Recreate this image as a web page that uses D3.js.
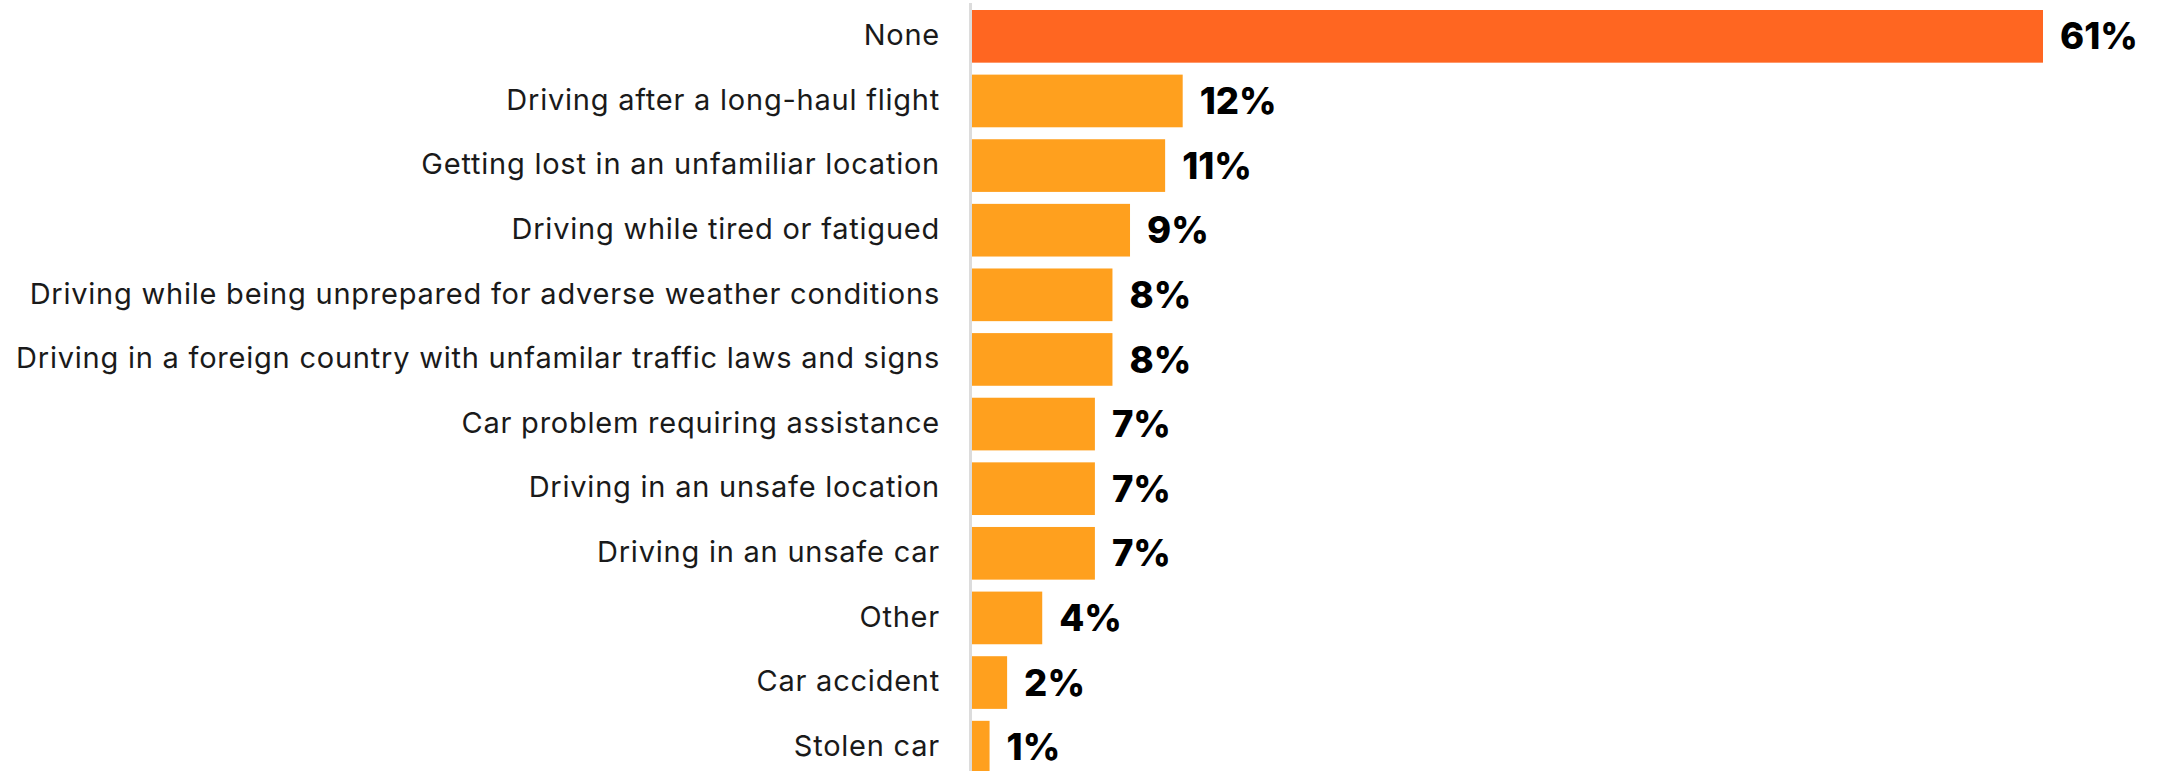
<!DOCTYPE html>
<html>
<head>
<meta charset="utf-8">
<script src="https://cdn.jsdelivr.net/npm/d3@7"></script>
<style>
  html, body { margin: 0; padding: 0; background: #fff; }
  svg { display: block; }
</style>
</head>
<body>
<svg id="chart" width="2159" height="771"></svg>
<script>
// Driving concerns while travelling, share of respondents (%)
const categories = [
  "None",
  "Driving after a long-haul flight",
  "Getting lost in an unfamiliar location",
  "Driving while tired or fatigued",
  "Driving while being unprepared for adverse weather conditions",
  "Driving in a foreign country with unfamilar traffic laws and signs",
  "Car problem requiring assistance",
  "Driving in an unsafe location",
  "Driving in an unsafe car",
  "Other",
  "Car accident",
  "Stolen car"
];
const values = [61, 12, 11, 9, 8, 8, 7, 7, 7, 4, 2, 1];
const highlighted = ["None"];

const width = 2159, height = 771;
const left = 972;
const labelGap = 32;
const labelSpan = 924;   // width available to the longest category label

const svg = d3.select("#chart");

const x = d3.scaleLinear()
  .domain([0, d3.max(values)])
  .range([left, 2043]);

const y = d3.scaleBand()
  .domain(categories)
  .range([10, 773.5])
  .paddingInner(0.185)
  .paddingOuter(0);

const data = categories.map((c, i) => ({ cat: c, val: values[i] }));

// baseline
svg.append("line")
  .attr("x1", left - 1.5).attr("x2", left - 1.5)
  .attr("y1", 3).attr("y2", height)
  .attr("stroke", "#dcdcdc")
  .attr("stroke-width", 3);

// bars
svg.append("g").selectAll("rect")
  .data(data)
  .join("rect")
  .attr("x", x(0))
  .attr("y", d => y(d.cat))
  .attr("width", d => x(d.val) - x(0))
  .attr("height", y.bandwidth())
  .attr("fill", d => highlighted.includes(d.cat) ? "#FF6621" : "#FFA01E");

// category labels
const labels = svg.append("g").selectAll("text")
  .data(data)
  .join("text")
  .attr("x", left - labelGap)
  .attr("y", d => y(d.cat) + y.bandwidth() / 2)
  .attr("dy", "0.3em")
  .attr("text-anchor", "end")
  .attr("font-family", "Inter, Lato, sans-serif")
  .attr("font-size", 29)
  .attr("fill", "#1a1a1a")
  .text(d => d.cat);

// widen tracking so the longest label fills its column
let longest = null, maxW = 0;
labels.each(function (d) {
  const w = this.getComputedTextLength();
  if (w > maxW) { maxW = w; longest = d.cat; }
});
const spacing = (labelSpan - maxW) / longest.length;
labels.attr("letter-spacing", spacing.toFixed(2));

// value labels
svg.append("g").selectAll("text")
  .data(data)
  .join("text")
  .attr("x", d => x(d.val) + 17)
  .attr("y", d => y(d.cat) + y.bandwidth() / 2)
  .attr("dy", "0.36em")
  .attr("font-family", "Inter, Lato, sans-serif")
  .attr("font-weight", 800)
  .attr("font-size", 36.5)
  .attr("fill", "#000")
  .text(d => d.val + "%");
</script>
</body>
</html>
